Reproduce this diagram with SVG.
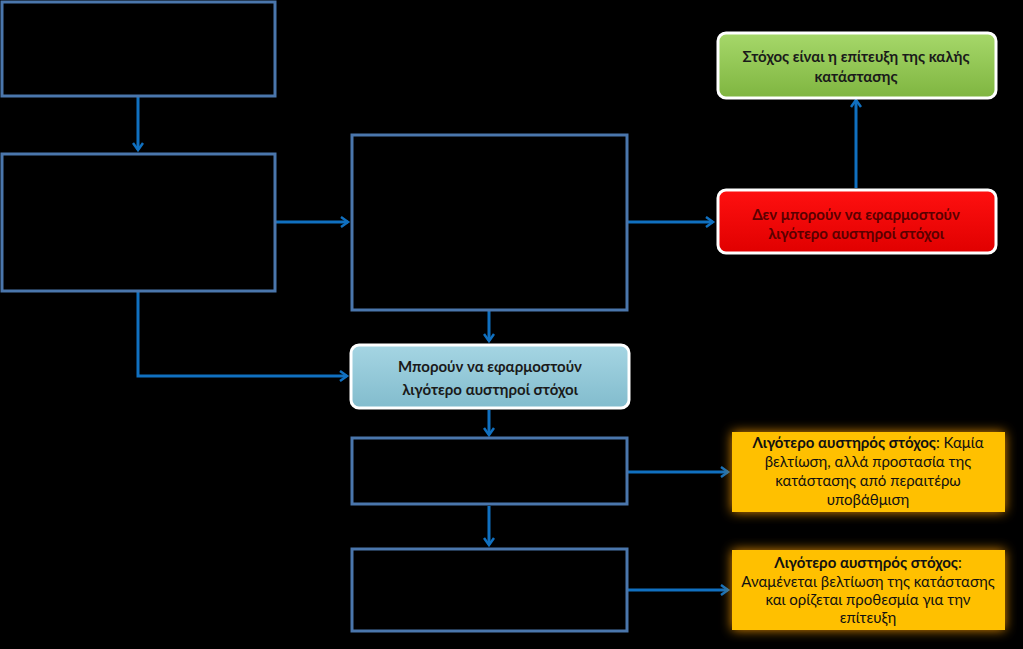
<svg xmlns="http://www.w3.org/2000/svg" width="1023" height="649" viewBox="0 0 1023 649">
<defs>
<style>
.frame{fill:none;stroke:#4A76AC;stroke-width:3}
.conn{fill:none;stroke:#1070C0;stroke-width:3}
.t{font-family:Lato,"Liberation Sans",sans-serif;font-size:15px;text-anchor:middle}
.b{font-weight:bold}
.card{stroke:#fff;stroke-width:3}
</style>
<marker id="ah" markerWidth="12" markerHeight="12" refX="9" refY="6" orient="auto" markerUnits="userSpaceOnUse">
<path d="M2,1 L9,6 L2,11" fill="none" stroke="#1070C0" stroke-width="2.5"/>
</marker>
<linearGradient id="gGreen" x1="0" y1="0" x2="0" y2="1"><stop offset="0" stop-color="#A6D86A"/><stop offset="1" stop-color="#7FB540"/></linearGradient>
<linearGradient id="gRed" x1="0" y1="0" x2="0" y2="1"><stop offset="0" stop-color="#FF1010"/><stop offset="1" stop-color="#E00000"/></linearGradient>
<linearGradient id="gBlue" x1="0" y1="0" x2="0" y2="1"><stop offset="0" stop-color="#A5D5E3"/><stop offset="1" stop-color="#82BCCD"/></linearGradient>
<filter id="glow" x="-20%" y="-30%" width="140%" height="160%"><feGaussianBlur stdDeviation="6"/></filter>
</defs>
<rect width="1023" height="649" fill="#000"/>
<g id="connectors">
<path class="conn" d="M138,97 V150" marker-end="url(#ah)"/>
<path class="conn" d="M276,222 H348" marker-end="url(#ah)"/>
<path class="conn" d="M138,292 V376 H347" marker-end="url(#ah)"/>
<path class="conn" d="M489,311 V341" marker-end="url(#ah)"/>
<path class="conn" d="M628,222 H713" marker-end="url(#ah)"/>
<path class="conn" d="M856,188 V100" marker-end="url(#ah)"/>
<path class="conn" d="M489,410 V435" marker-end="url(#ah)"/>
<path class="conn" d="M489,506 V545" marker-end="url(#ah)"/>
<path class="conn" d="M628,472 H728" marker-end="url(#ah)"/>
<path class="conn" d="M628,590 H728" marker-end="url(#ah)"/>
</g>
<g id="boxA"><rect class="frame" x="2" y="2" width="273" height="94"/></g>
<g id="boxB"><rect class="frame" x="2" y="154" width="273" height="137"/></g>
<g id="boxC"><rect class="frame" x="352" y="135" width="275" height="175"/></g>
<g id="boxD"><rect class="frame" x="352" y="438" width="275" height="66"/></g>
<g id="boxE"><rect class="frame" x="352" y="549" width="275" height="82"/></g>
<g id="green">
<rect class="card" x="718" y="33" width="278" height="65" rx="8" fill="url(#gGreen)"/>
<text class="t b" x="856" y="62" fill="#1a1a1a">Στόχος είναι η επίτευξη της καλής</text>
<text class="t b" x="856" y="82" fill="#1a1a1a">κατάστασης</text>
</g>
<g id="red">
<rect class="card" x="718" y="190" width="278" height="63" rx="8" fill="url(#gRed)"/>
<text class="t b" x="856" y="220" fill="#5A0000">Δεν μπορούν να εφαρμοστούν</text>
<text class="t b" x="856" y="239" fill="#5A0000">λιγότερο αυστηροί στόχοι</text>
</g>
<g id="blue">
<rect class="card" x="351" y="345" width="278" height="63" rx="8" fill="url(#gBlue)"/>
<text class="t b" x="490" y="372" fill="#1a1a1a">Μπορούν να εφαρμοστούν</text>
<text class="t b" x="490" y="395" fill="#1a1a1a">λιγότερο αυστηροί στόχοι</text>
</g>
<g id="orange1">
<rect x="732" y="432" width="273" height="80" fill="#E08A00" filter="url(#glow)"/>
<rect x="732" y="432" width="273" height="80" fill="#FFC000"/>
<text class="t" x="868" y="448" fill="#111"><tspan class="b">Λιγότερο αυστηρός στόχος</tspan>: Καμία</text>
<text class="t" x="868" y="467" fill="#111">βελτίωση, αλλά προστασία της</text>
<text class="t" x="868" y="486" fill="#111">κατάστασης από περαιτέρω</text>
<text class="t" x="868" y="505" fill="#111">υποβάθμιση</text>
</g>
<g id="orange2">
<rect x="732" y="550" width="273" height="80" fill="#E08A00" filter="url(#glow)"/>
<rect x="732" y="550" width="273" height="80" fill="#FFC000"/>
<text class="t" x="868" y="568" fill="#111"><tspan class="b">Λιγότερο αυστηρός στόχος</tspan>:</text>
<text class="t" x="868" y="587" fill="#111">Αναμένεται βελτίωση της κατάστασης</text>
<text class="t" x="868" y="605" fill="#111">και ορίζεται προθεσμία για την</text>
<text class="t" x="868" y="623" fill="#111">επίτευξη</text>
</g>
</svg>
